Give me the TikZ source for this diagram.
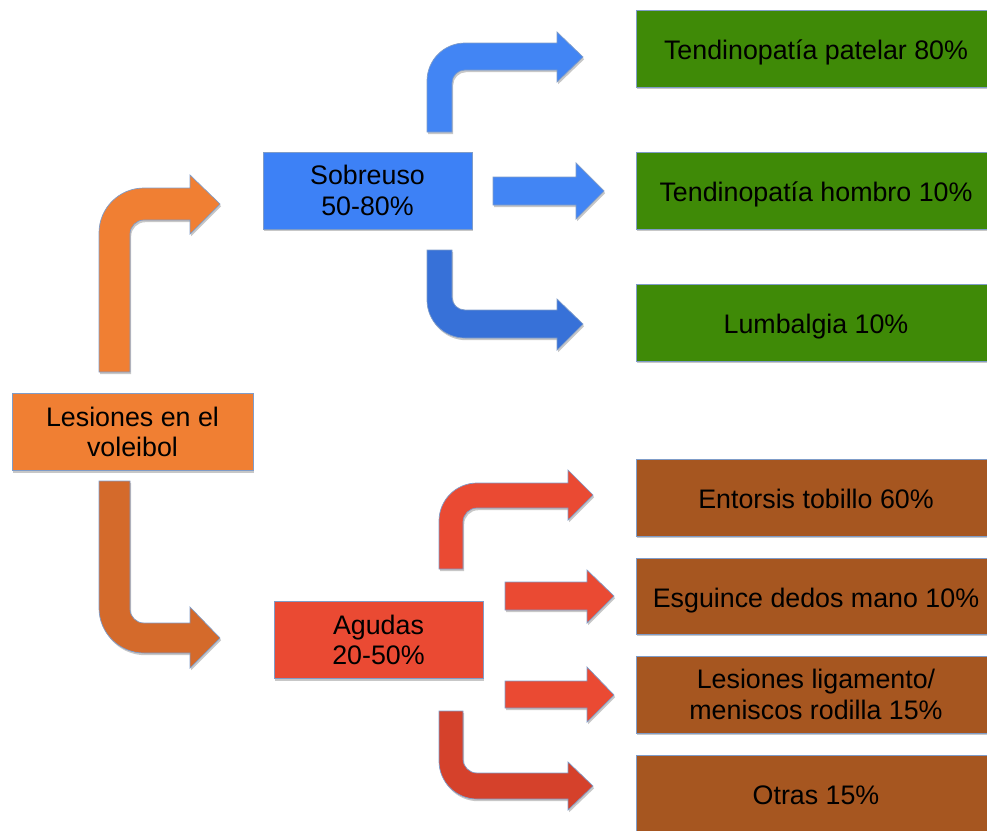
\documentclass[tikz,border=0pt]{standalone}
\usepackage{fontspec}
\setmainfont{Liberation Sans}
\usetikzlibrary{shadows}

\definecolor{orangebox}{HTML}{F07F33}
\definecolor{orangedark}{HTML}{D46A2B}
\definecolor{bluebox}{HTML}{3D81F6}
\definecolor{bluearrow}{HTML}{4285F4}
\definecolor{bluedark}{HTML}{3771D8}
\definecolor{redbox}{HTML}{EA4A33}
\definecolor{reddark}{HTML}{D5412B}
\definecolor{greenbox}{HTML}{3F8A07}
\definecolor{brownbox}{HTML}{A65620}
\definecolor{edgeblue}{HTML}{7F9CC8}

\begin{document}
\begin{tikzpicture}[x=1pt, y=-1pt,
  softshadow/.style={drop shadow={shadow xshift=1.2pt, shadow yshift=-2.2pt, opacity=0.22, fill=black}},
  box/.style={draw=edgeblue, line width=0.9pt, softshadow, align=center, text=black,
              inner sep=0pt, font=\fontsize{26.8}{30.4}\selectfont},
  oneline/.style={text height=24pt, text depth=2pt},
  leftbox/.style={box, minimum width=209pt, minimum height=77pt},
  rightbox/.style={box, minimum width=360pt, minimum height=77pt},
  blockarrow/.style={draw=edgeblue, line width=0.7pt, softshadow}]

\useasboundingbox (0,0) rectangle (987,830);
\clip (0,0) rectangle (987,830);

% ---- boxes ----
\node[box, fill=orangebox, minimum width=241pt, minimum height=77pt] (lesiones) at (132.5,432) {Lesiones en el\\voleibol};
\node[leftbox, fill=bluebox] (sobreuso) at (367.5,190.5) {Sobreuso\\50-80\%};
\node[leftbox, fill=redbox] (agudas) at (378.5,640) {Agudas\\20-50\%};

\node[rightbox, oneline, fill=greenbox] (patelar) at (816,48.5) {Tendinopatía patelar 80\%};
\node[rightbox, oneline, fill=greenbox] (hombro) at (816,190.5) {Tendinopatía hombro 10\%};
\node[rightbox, oneline, fill=greenbox] (lumbalgia) at (816,322.5) {Lumbalgia 10\%};

\node[rightbox, oneline, fill=brownbox] (tobillo) at (816,497.5) {Entorsis tobillo 60\%};
\node[rightbox, oneline, fill=brownbox, minimum height=76pt] (mano) at (816,596) {Esguince dedos mano 10\%};
\node[rightbox, fill=brownbox] (rodilla) at (816,694.5) {Lesiones ligamento/\\meniscos rodilla 15\%};
\node[rightbox, oneline, fill=brownbox] (otras) at (816,793.5) {Otras 15\%};

% ---- bent arrows from the root box ----
\filldraw[blockarrow, fill=orangebox]
  (99,372) -- (99,233) .. controls (99,208.1) and (119.1,188) .. (144,188)
  -- (190,188) -- (190,175) -- (220,204) -- (190,234) -- (190,220)
  -- (144,220) .. controls (136.3,220) and (130,226.3) .. (130,234)
  -- (130,372) -- cycle;
\filldraw[blockarrow, fill=orangedark]
  (99,481) -- (99,608) .. controls (99,632.9) and (119.1,653) .. (144,653)
  -- (190,653) -- (190,668) -- (220,638) -- (190,607) -- (190,623)
  -- (144,623) .. controls (136.3,623) and (130,616.7) .. (130,609)
  -- (130,481) -- cycle;

% ---- arrows from "Sobreuso" ----
\filldraw[blockarrow, fill=bluearrow]
  (427,132) -- (427,81) .. controls (427,60) and (444,43) .. (465,43)
  -- (557,43) -- (557,32) -- (583,57) -- (557,82) -- (557,70)
  -- (465,70) .. controls (457.8,70) and (452,75.8) .. (452,83)
  -- (452,132) -- cycle;
\filldraw[blockarrow, fill=bluearrow]
  (493,177) -- (576,177) -- (576,163) -- (604,191) -- (576,219) -- (576,205) -- (493,205) -- cycle;
\filldraw[blockarrow, fill=bluedark]
  (427,250) -- (427,300) .. controls (427,321) and (444,338) .. (465,338)
  -- (557,338) -- (557,350) -- (583,324) -- (557,299) -- (557,310)
  -- (465,310) .. controls (457.8,310) and (452,304.2) .. (452,297)
  -- (452,250) -- cycle;

% ---- arrows from "Agudas" ----
\filldraw[blockarrow, fill=redbox]
  (439,569) -- (439,521) .. controls (439,500) and (456,483) .. (477,483)
  -- (568,483) -- (568,470) -- (593,495) -- (568,520) -- (568,508)
  -- (477,508) .. controls (469.3,508) and (463,514.3) .. (463,522)
  -- (463,569) -- cycle;
\filldraw[blockarrow, fill=redbox]
  (505,582) -- (587,582) -- (587,570) -- (614,596) -- (587,623) -- (587,610) -- (505,610) -- cycle;
\filldraw[blockarrow, fill=redbox]
  (505,681) -- (587,681) -- (587,667) -- (614,695) -- (587,722) -- (587,708) -- (505,708) -- cycle;
\filldraw[blockarrow, fill=reddark]
  (439,711) -- (439,761) .. controls (439,782) and (456,799) .. (477,799)
  -- (568,799) -- (568,810) -- (593,786) -- (568,762) -- (568,773)
  -- (477,773) .. controls (469.3,773) and (463,766.7) .. (463,759)
  -- (463,711) -- cycle;
\end{tikzpicture}
\end{document}
